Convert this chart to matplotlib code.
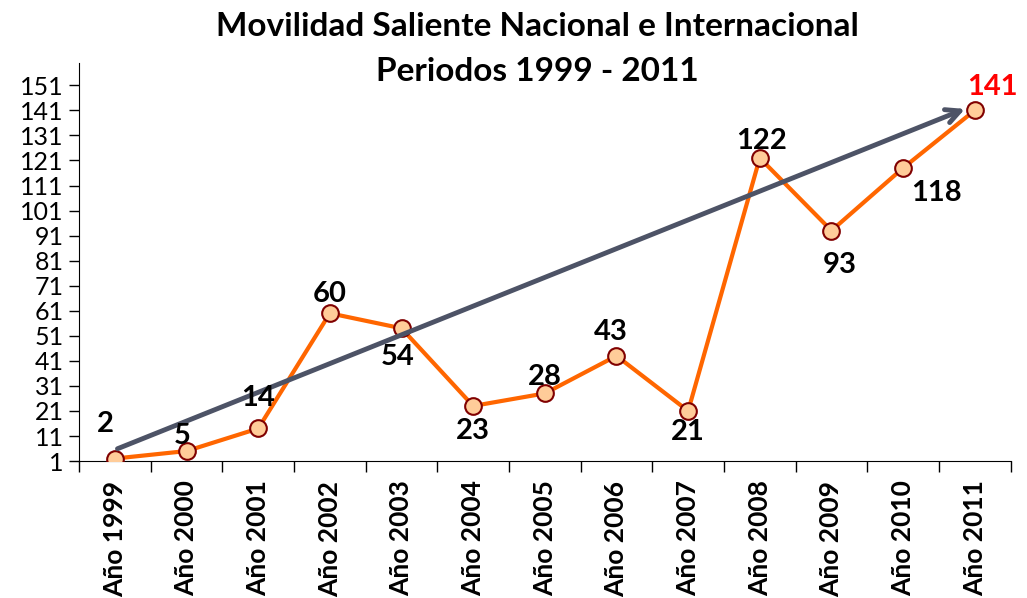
import matplotlib
matplotlib.use('Agg')
from matplotlib import pyplot as plt

plt.rcParams['font.family'] = ['Lato', 'DejaVu Sans']

years = ['Año 1999', 'Año 2000', 'Año 2001', 'Año 2002', 'Año 2003', 'Año 2004',
         'Año 2005', 'Año 2006', 'Año 2007', 'Año 2008', 'Año 2009', 'Año 2010',
         'Año 2011']
values = [2, 5, 14, 60, 54, 23, 28, 43, 21, 122, 93, 118, 141]
yticks = list(range(1, 152, 10))

# label offsets in points (dx, dy)
offsets = [(-7, 25), (-3, 11), (0, 22), (0, 14), (-3, -21), (0, -18), (0, 12),
           (-4, 17), (0, -15), (1, 12), (6, -25), (24, -18), (13, 17)]

fig = plt.figure(figsize=(10.27, 5.98), dpi=100)
ax = fig.add_axes([0.077, 0.229, 0.907, 0.666])

x = list(range(len(years)))
ax.plot(x, values, color='#ff6600', lw=3, marker='o', ms=12,
        markerfacecolor='#ffcc99', markeredgecolor='#800000', mew=1.5, zorder=3)

ax.annotate('', xy=(11.9, 142), xytext=(0, 5.5),
            arrowprops=dict(arrowstyle='->,head_length=1.0,head_width=0.5',
                            color='#4d5366', lw=3.5), zorder=4)

for i, v in enumerate(values):
    dx, dy = offsets[i]
    ax.annotate(str(v), (i, v), xytext=(dx, dy), textcoords='offset points',
                ha='center', va='center', fontsize=21, fontweight='bold',
                color='red' if i == len(values) - 1 else 'black', zorder=5)

ax.set_xlim(-0.5, len(years) - 0.5)
ax.set_ylim(1, 160)
ax.set_yticks(yticks)
ax.tick_params(axis='y', labelsize=18, length=7, width=1, direction='out', pad=4)
ax.set_xticks(x)
ax.set_xticklabels(years, rotation=90, fontsize=19, fontweight='bold')
ax.set_xticks([i - 0.5 for i in range(len(years) + 1)], minor=True)
ax.tick_params(axis='x', which='major', length=0, pad=14)
ax.tick_params(axis='x', which='minor', length=8, width=1)

ax.spines['top'].set_visible(False)
ax.spines['right'].set_visible(False)

fig.text(0.523, 0.955, 'Movilidad Saliente Nacional e Internacional', ha='center',
         va='center', fontsize=24, fontweight='bold')
fig.text(0.523, 0.88, 'Periodos 1999 - 2011', ha='center', va='center',
         fontsize=24, fontweight='bold')

fig.savefig('out.png', dpi=100)
